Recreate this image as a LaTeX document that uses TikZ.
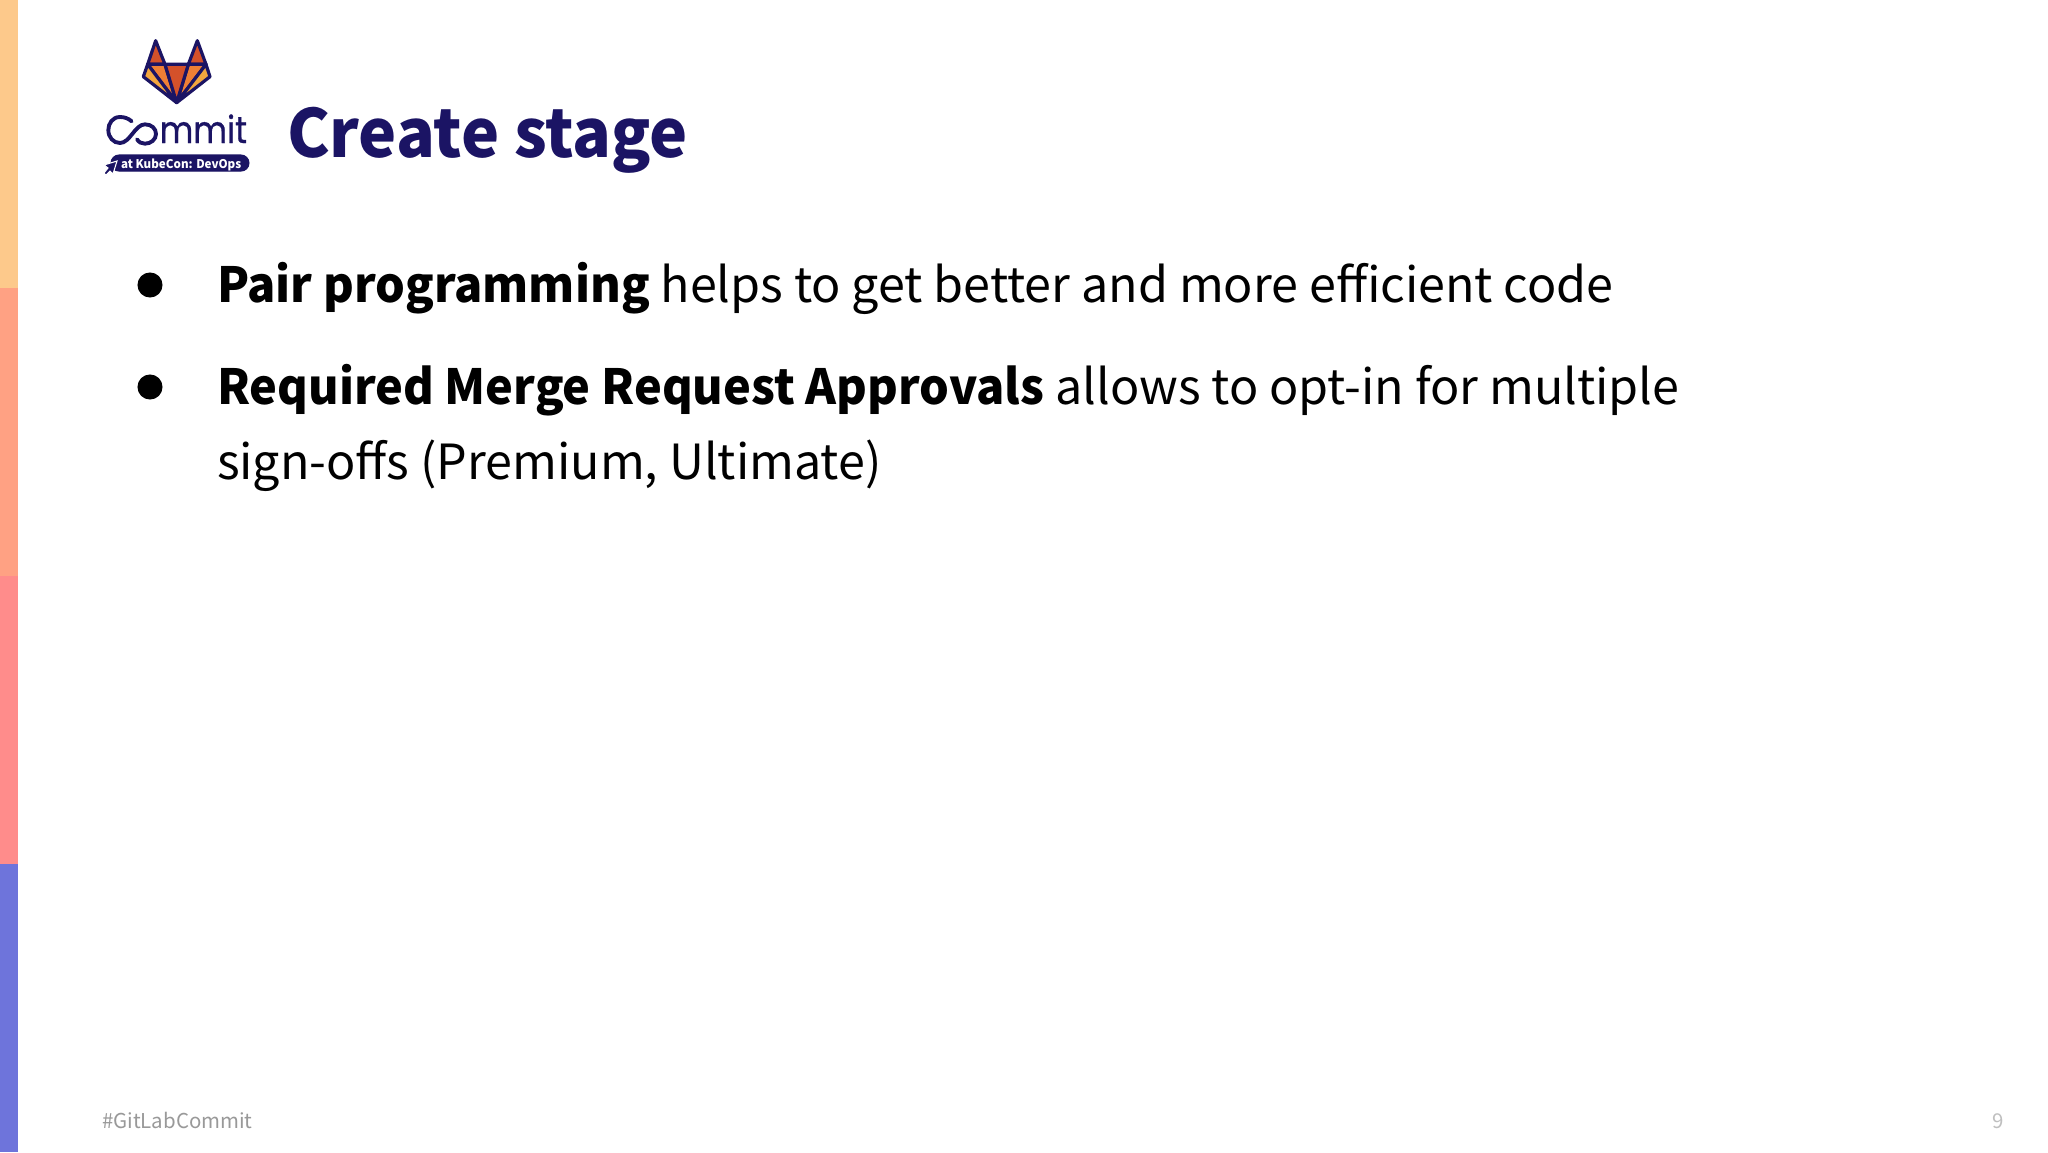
\documentclass[tikz,border=0pt]{standalone}
\usepackage{fontspec}
\setmainfont[BoldFeatures={FakeStretch=0.968}]{Noto Sans CJK SC}
\newfontfamily\logofont[FakeStretch=0.87,FakeBold=0.7]{Poppins}
\usepackage{tikz}
\usetikzlibrary{positioning}
\usepackage{xcolor}
\definecolor{stripeA}{HTML}{FDC98B}
\definecolor{stripeB}{HTML}{FFA183}
\definecolor{stripeC}{HTML}{FF8C8B}
\definecolor{stripeD}{HTML}{6E74DB}
\definecolor{navy}{HTML}{1B1464}
\definecolor{foxred}{HTML}{D4512A}
\definecolor{foxorange}{HTML}{EE7F35}
\definecolor{foxyellow}{HTML}{F3A63E}
\tikzset{
  txt/.style={anchor=base west,inner sep=0pt,outer sep=0pt},
  body/.style={txt,font=\fontsize{18.16}{24}\selectfont,text=black},
  dot/.style={circle,fill=black,inner sep=0pt,minimum size=9.4pt},
  foxline/.style={navy,line width=1.2pt,line join=round}
}
\begin{document}
\begin{tikzpicture}[x=0.375pt,y=-0.375pt]
\useasboundingbox (0,0) rectangle (2048,1152);
\fill [white] (0,0) rectangle (2048,1152);

% side stripes
\fill [stripeA] (0,0) rectangle (18,288);
\fill [stripeB] (0,288) rectangle (18,576);
\fill [stripeC] (0,576) rectangle (18,864);
\fill [stripeD] (0,864) rectangle (18,1152);

% wordmark
\node [txt,anchor=base east,text=navy,font=\logofont\fontsize{14.1}{16}\selectfont] (commit) at (247,143) {\textcolor{white}{Co}mmit};

% fox and the infinity of the wordmark
\begin{scope}[shift={(80,20)},x=0.125pt,y=-0.125pt]
\filldraw [foxline,fill=foxred] (227,62)--(203,133)--(255,133)--cycle;
\filldraw [foxline,fill=foxred] (352,62)--(325,133)--(378,133)--cycle;
\filldraw [foxline,fill=foxorange] (203,133)--(255,133)--(290,248)--cycle;
\filldraw [foxline,fill=foxorange] (378,133)--(325,133)--(290,248)--cycle;
\filldraw [foxline,fill=foxyellow] (203,133)--(190,170)--(290,248)--cycle;
\filldraw [foxline,fill=foxyellow] (378,133)--(390,170)--(290,248)--cycle;
\filldraw [foxline,fill=foxred] (255,133)--(325,133)--(290,248)--cycle;
\draw [navy,line width=1.45pt,line cap=round] (155,304) .. controls (145,295) and (133,291) .. (120,291)
  .. controls (98,291) and (85,310) .. (85,330)
  .. controls (85,352) and (100,369) .. (120,369)
  .. controls (150,369) and (165,313) .. (195,313)
  .. controls (215,313) and (228,326) .. (228,342)
  .. controls (228,358) and (213,371) .. (195,371)
  .. controls (185,371) and (177,367) .. (171,358);
\end{scope}

\filldraw [navy] (111,155) [rounded corners=3pt] rectangle (249,171);
\node [txt,text=white,font=\bfseries\fontsize{4.5}{6}\selectfont] (badge) at (121,168) {at KubeCon: DevOps};
\filldraw [navy,draw=white,line width=0.4pt] (117,161)--(104,165)--(108,168)--(104,173)--(106,175)--(110,171)--(113,174)--cycle;

\node [txt,text=navy,font=\bfseries\fontsize{24.9}{30}\selectfont] (title) at (287,157) {Create stage};

% bullets
\node [dot] (dotA) at (150,285) {};
\node [dot] (dotB) at (150,387) {};
\node [body] (lineA) at (217,302) {\textbf{Pair programming} helps to get better and more efficient code};
\node [body] (lineB) at (217,404) {\textbf{Required Merge Request Approvals} allows to opt-in for multiple};
\node [body] (lineC) at (217,479) {sign-offs (Premium, Ultimate)};

% footer
\node [txt,text=black!40,font=\fontsize{7.67}{10}\selectfont] (tag) at (102,1128) {\#GitLabCommit};
\node [txt,text=black!25,font=\fontsize{7.67}{10}\selectfont] (page) at (1992,1128) {9};
\end{tikzpicture}
\end{document}
